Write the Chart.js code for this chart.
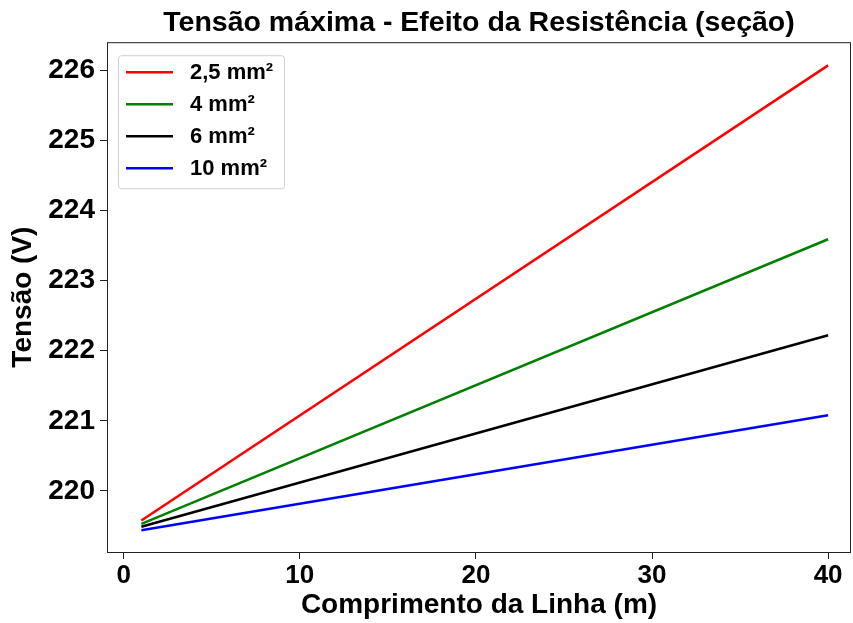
<!DOCTYPE html>
<html>
<head>
<meta charset="utf-8">
<script src="https://cdn.jsdelivr.net/npm/chart.js@4.4.0/dist/chart.umd.min.js"></script>
<style>
  html, body { margin: 0; padding: 0; background: #fff; }
  #wrap { width: 853px; height: 623px; }
</style>
</head>
<body>
<div id="wrap"><canvas id="myChart" width="853" height="623"></canvas></div>
<script>
// comprimento da linha (m)
const comprimento = [1, 40]
const tensao25 = [219.58, 226.07]
const tensao4 = [219.53, 223.59]
const tensao6 = [219.49, 222.22]
const tensao10 = [219.44, 221.08]
const secoes = ['2,5 mm²', '4 mm²', '6 mm²', '10 mm²']
const cores = ['#ff0000', '#008000', '#000000', '#0000ff']
const xTicks = [0, 10, 20, 30, 40]
const yTicks = [220, 221, 222, 223, 224, 225, 226]

const fontFamily = 'Arial'
const ctx = document.getElementById('myChart')

const toPoints = (ys) => comprimento.map((x, i) => ({ x: x, y: ys[i] }))
const series = [tensao25, tensao4, tensao6, tensao10]

// moldura do gráfico + legenda dentro da área
const framePlugin = {
    id: 'frame',
    afterDraw(chart) {
        const { ctx, chartArea: a } = chart
        ctx.save()
        ctx.strokeStyle = '#222'
        ctx.lineWidth = 1
        ctx.strokeRect(a.left + 0.5, a.top + 0.5, a.right - a.left - 1, a.bottom - a.top)

        // legenda
        const bx = a.left + 11, by = a.top + 13, bw = 166, bh = 133
        ctx.fillStyle = 'rgba(255,255,255,0.8)'
        ctx.strokeStyle = '#d0d0d0'
        ctx.beginPath()
        ctx.roundRect(bx + 0.5, by + 0.5, bw, bh, 3)
        ctx.fill()
        ctx.stroke()
        ctx.font = 'bold 22px ' + fontFamily
        ctx.textBaseline = 'middle'
        secoes.forEach((label, i) => {
            const y = by + 17 + i * 32
            ctx.strokeStyle = cores[i]
            ctx.lineWidth = 2.5
            ctx.beginPath()
            ctx.moveTo(bx + 8, y)
            ctx.lineTo(bx + 55, y)
            ctx.stroke()
            ctx.fillStyle = '#000'
            ctx.fillText(label, bx + 72, y + 1)
        })
        ctx.restore()
    }
}

new Chart(ctx, {
    type: 'line',
    data: {
        datasets: series.map((ys, i) => ({
            label: secoes[i],
            data: toPoints(ys),
            borderColor: cores[i],
            borderWidth: 2.5,
            pointRadius: 0,
            fill: false,
        }))
    },
    options: {
        responsive: false,
        animation: false,
        layout: { padding: { left: 0, right: 2, top: 0, bottom: 0 } },
        plugins: {
            legend: { display: false },
            tooltip: { enabled: false },
            title: {
                display: true,
                fullSize: false,
                text: 'Tensão máxima - Efeito da Resistência (seção)',
                color: '#000',
                font: { family: fontFamily, size: 28.5, weight: 'bold', lineHeight: 1.2 },
                padding: { top: 6, bottom: 2 },
            },
        },
        scales: {
            x: {
                type: 'linear',
                min: -0.95,
                max: 41.3,
                afterBuildTicks: (axis) => { axis.ticks = xTicks.map(v => ({ value: v })) },
                afterFit: (axis) => { axis.height = 71 },
                border: { display: false },
                grid: { display: true, drawOnChartArea: false, drawTicks: true, tickLength: 7, color: '#222' },
                ticks: { color: '#000', padding: 1, maxRotation: 0, font: { family: fontFamily, size: 26, weight: 'bold' } },
                title: {
                    display: true,
                    text: 'Comprimento da Linha (m)',
                    color: '#000',
                    padding: { top: 0, bottom: 1 },
                    font: { family: fontFamily, size: 28, weight: 'bold' },
                },
            },
            y: {
                type: 'linear',
                min: 219.13,
                max: 226.40,
                afterBuildTicks: (axis) => { axis.ticks = yTicks.map(v => ({ value: v })) },
                afterFit: (axis) => { axis.width = 107 },
                border: { display: false },
                grid: { display: true, drawOnChartArea: false, drawTicks: true, tickLength: 7, color: '#222' },
                ticks: { color: '#000', padding: 5, font: { family: fontFamily, size: 28, weight: 'bold' } },
                title: {
                    display: true,
                    text: 'Tensão (V)',
                    color: '#000',
                    padding: { top: 6, bottom: 0 },
                    font: { family: fontFamily, size: 28, weight: 'bold' },
                },
            },
        },
    },
    plugins: [framePlugin],
})
</script>
</body>
</html>
